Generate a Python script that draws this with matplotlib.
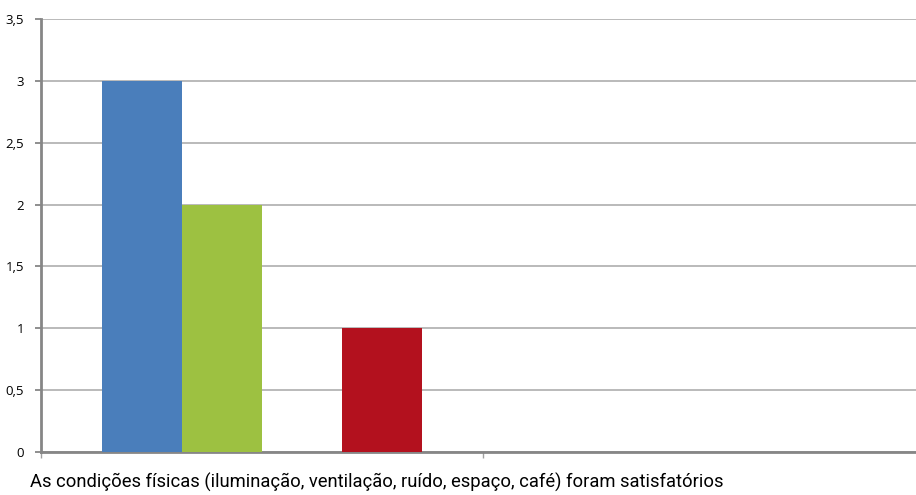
import numpy as np
import matplotlib.pyplot as plt

categories = ['As condições físicas (iluminação, ventilação, ruído, espaço, café) foram satisfatórios', '']
series_a = [3, 0]
series_b = [2, 0]
series_c = [0, 0]
series_d = [1, 0]
yticks = [0, 0.5, 1, 1.5, 2, 2.5, 3, 3.5]
ytick_labels = ['0', '0,5', '1', '1,5', '2', '2,5', '3', '3,5']

colors = ['#4A7EBB', '#9DC141', '#8064A2', '#B3111E']

fig = plt.figure(figsize=(9.16, 4.95), dpi=100)
W, H = 916, 495
ax = fig.add_axes([41 / W, (H - 452) / H, (925 - 41) / W, (452 - 19) / H])

x = np.arange(len(categories))
w = 80 / 442
all_series = [series_a, series_b, series_c, series_d]
for i, vals in enumerate(all_series):
    ax.bar(x + (i - 1.5) * w, vals, width=w, color=colors[i], zorder=3)

ax.set_xlim(-0.5, len(categories) - 0.5)
ax.set_ylim(0, 3.5)
ax.set_yticks(yticks)
ax.set_yticklabels(ytick_labels, fontsize=9.5, family=['Open Sans', 'DejaVu Sans'])
ax.yaxis.grid(True, color='#B4B4B4', linewidth=1.3, zorder=0)
ax.tick_params(axis='y', length=4, width=1.3, color='#868686', pad=8)

ax.set_xticks(np.arange(len(categories) + 1) - 0.5)
ax.set_xticklabels([])
ax.tick_params(axis='x', length=4, width=1, color='#A0A0A0')

for s in ['top', 'right']:
    ax.spines[s].set_visible(False)
for s in ['left', 'bottom']:
    ax.spines[s].set_color('#868686')
    ax.spines[s].set_linewidth(2)

fig.text(30 / W, 1 - 482 / H, categories[0], fontsize=13.2, va='center', ha='left',
         family=['Roboto', 'DejaVu Sans'])

fig.savefig('out.png', dpi=100)
